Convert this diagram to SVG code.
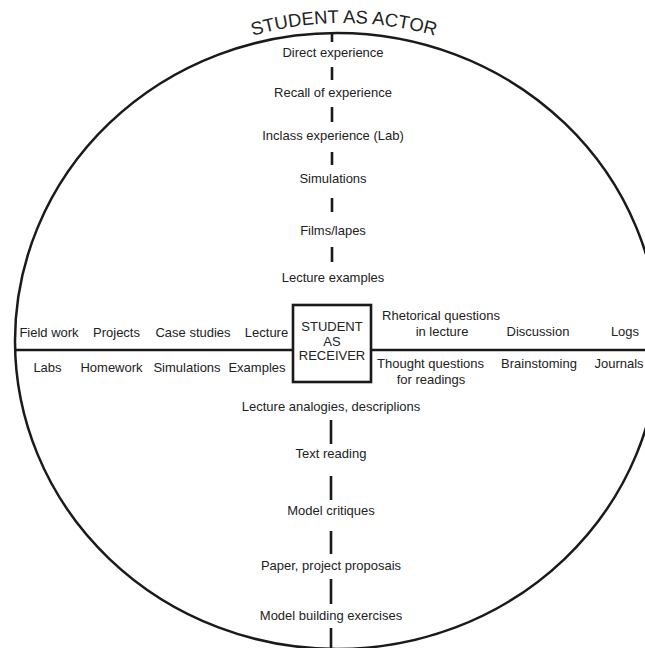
<svg xmlns="http://www.w3.org/2000/svg" width="645" height="648" viewBox="0 0 645 648">
<defs>
<style>
text{font-family:"Liberation Sans",Arial,sans-serif;font-size:13px;fill:#222;}
.c{text-anchor:middle;}
.title{font-size:18.5px;}
.ln{stroke:#1a1a1a;stroke-width:2.5;fill:none;}
.dash{stroke:#1a1a1a;stroke-width:2.6;}
</style>
<path id="titleArc" d="M 220 47.2 A 330 330 0 0 1 468 47.2"/>
</defs>
<rect width="645" height="648" fill="#fff"/>
<g id="frame">
<ellipse class="ln" cx="337" cy="341" rx="322" ry="308"/>
<text class="title"><textPath href="#titleArc" startOffset="50%" text-anchor="middle">STUDENT AS ACTOR</textPath></text>
</g>
<g id="connectors">
<line class="ln" x1="15" y1="350" x2="293" y2="350"/>
<line class="ln" x1="371" y1="350" x2="645" y2="350"/>
<line class="dash" x1="332" y1="33" x2="332" y2="42"/>
<line class="dash" x1="332" y1="67" x2="332" y2="80"/>
<line class="dash" x1="332" y1="107" x2="332" y2="122"/>
<line class="dash" x1="332" y1="152" x2="332" y2="165"/>
<line class="dash" x1="332" y1="198" x2="332" y2="212"/>
<line class="dash" x1="332" y1="247" x2="332" y2="262"/>
<line class="dash" x1="331" y1="420" x2="331" y2="444"/>
<line class="dash" x1="331" y1="476" x2="331" y2="500"/>
<line class="dash" x1="331" y1="531" x2="331" y2="554"/>
<line class="dash" x1="331" y1="579" x2="331" y2="604"/>
<line class="dash" x1="331" y1="628" x2="331" y2="648"/>
</g>
<g id="center">
<rect x="293" y="305" width="78" height="77" fill="#fff" stroke="#1a1a1a" stroke-width="2.6"/>
<text class="c" x="332" y="331">STUDENT</text>
<text class="c" x="332" y="345.5">AS</text>
<text class="c" x="332" y="360">RECEIVER</text>
</g>
<g id="actor-column">
<g id="n-direct"><text class="c" x="333" y="57">Direct experience</text></g>
<g id="n-recall"><text class="c" x="333" y="97">Recall of experience</text></g>
<g id="n-inclass"><text class="c" x="333" y="140">Inclass experience (Lab)</text></g>
<g id="n-sim-top"><text class="c" x="333" y="183">Simulations</text></g>
<g id="n-films"><text class="c" x="333" y="235">Films/lapes</text></g>
<g id="n-lecex"><text class="c" x="333" y="282">Lecture examples</text></g>
</g>
<g id="lower-column">
<g id="n-analogies"><text class="c" x="331" y="411">Lecture analogies, descriplions</text></g>
<g id="n-text"><text class="c" x="331" y="458">Text reading</text></g>
<g id="n-critiques"><text class="c" x="331" y="515">Model critiques</text></g>
<g id="n-paper"><text class="c" x="331" y="570">Paper, project proposais</text></g>
<g id="n-model"><text class="c" x="331" y="620">Model building exercises</text></g>
</g>
<g id="left-row">
<g id="n-field"><text class="c" x="49" y="337">Field work</text></g>
<g id="n-projects"><text class="c" x="116.5" y="337">Projects</text></g>
<g id="n-case"><text class="c" x="193" y="337">Case studies</text></g>
<g id="n-lecture"><text class="c" x="266.5" y="337">Lecture</text></g>
<g id="n-labs"><text class="c" x="47.5" y="372">Labs</text></g>
<g id="n-homework"><text class="c" x="111.5" y="372">Homework</text></g>
<g id="n-sim-left"><text class="c" x="187" y="372">Simulations</text></g>
<g id="n-examples"><text class="c" x="257" y="372">Examples</text></g>
</g>
<g id="right-row">
<g id="n-rhetorical"><text class="c" x="441" y="320">Rhetorical questions</text><text class="c" x="442" y="336">in lecture</text></g>
<g id="n-discussion"><text class="c" x="538" y="336">Discussion</text></g>
<g id="n-logs"><text class="c" x="625" y="336">Logs</text></g>
<g id="n-thought"><text class="c" x="430.5" y="368">Thought questions</text><text class="c" x="431" y="384">for readings</text></g>
<g id="n-brain"><text class="c" x="539" y="368">Brainstoming</text></g>
<g id="n-journals"><text class="c" x="619" y="368">Journals</text></g>
</g>
</svg>
